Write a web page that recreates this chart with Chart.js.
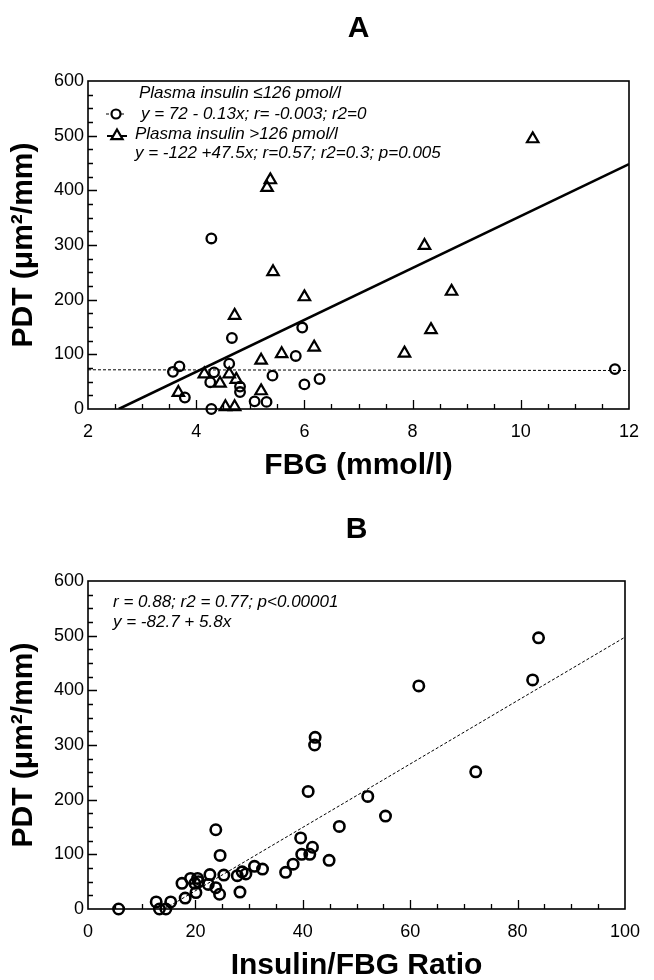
<!DOCTYPE html>
<html>
<head>
<meta charset="utf-8">
<script src="https://cdn.jsdelivr.net/npm/chart.js@4.4.0/dist/chart.umd.min.js"></script>
<style>
  html, body { margin: 0; padding: 0; background: #fff; }
  #wrap { position: relative; width: 654px; height: 980px; overflow: hidden; }
  .panel { position: absolute; left: 0; width: 654px; height: 490px; }
</style>
</head>
<body>
<div id="wrap">
  <div class="panel" style="top:0"><canvas id="chartA" width="654" height="490"></canvas></div>
  <div class="panel" style="top:490px"><canvas id="chartB" width="654" height="490"></canvas></div>
</div>
<script>
// --- Panel A : PDT vs FBG, split by plasma insulin ---
const fbgLowIns  = [3.57, 3.69, 3.79, 4.28, 4.28, 4.26, 4.33, 4.61, 4.66, 4.81, 4.81, 5.08, 5.30, 5.41, 5.84, 5.96, 6.00, 6.28, 11.74];
const pdtLowIns  = [68, 78, 21, 312, 0, 49, 67, 83, 130, 41, 31, 14, 13, 61, 97, 149, 45, 55, 73];
const fbgHighIns = [3.67, 4.15, 4.44, 4.54, 4.71, 4.71, 4.61, 4.74, 5.20, 5.20, 5.31, 5.37, 5.42, 5.58, 6.00, 6.18, 7.85, 8.22, 8.34, 8.72, 10.22];
const pdtHighIns = [30, 64, 47, 4, 4, 171, 64, 54, 89, 33, 405, 419, 251, 101, 205, 113, 102, 299, 145, 215, 494];
const fbgTicks = [2, 4, 6, 8, 10, 12];
const pdtTicks = [0, 100, 200, 300, 400, 500, 600];
// regression fits: [intercept, slope]
const fitLowIns  = [72, -0.13];
const fitHighIns = [-122, 47.5];
const legendTextA = [
  'Plasma insulin \u2264126 pmol/l',
  'y = 72 - 0.13x; r= -0.003; r2=0',
  'Plasma insulin >126 pmol/l',
  'y = -122 +47.5x; r=0.57; r2=0.3; p=0.005'
];

// --- Panel B : PDT vs Insulin/FBG ratio ---
const ratioVals = [5.7, 12.7, 13.3, 14.5, 15.4, 17.5, 18.1, 19.1, 19.9, 20.1, 20.4, 20.6, 22.4, 22.7, 23.8, 23.8, 24.5, 24.6, 25.3,
                   27.8, 28.3, 28.7, 29.4, 31.0, 32.5, 36.8, 38.2, 39.6, 39.8, 41.0, 41.3, 41.8, 42.2, 42.3, 44.9, 46.8, 52.1, 55.4,
                   61.6, 72.2, 82.8, 83.9];
const pdtRatio  = [0, 13, 0, 0, 13, 47, 20, 56, 47, 30, 56, 50, 45, 63, 145, 39, 27, 98, 62,
                   61, 31, 68, 64, 78, 73, 67, 82, 130, 100, 215, 100, 113, 300, 314, 89, 151, 206, 170,
                   408, 251, 419, 496];
const ratioTicks = [0, 20, 40, 60, 80, 100];
const fitRatio = [-82.7, 5.8];
const noteTextB = ['r = 0.88; r2 = 0.77; p<0.00001', 'y = -82.7 + 5.8x'];

const FONT = "'Liberation Sans', Arial, Helvetica, sans-serif";
Chart.defaults.font.family = FONT;
Chart.defaults.color = '#000';

const pts = (xs, ys) => xs.map((x, i) => ({ x, y: ys[i] }));
const fitLine = (fit, x0, x1) => [x0, x1].map(x => ({ x, y: fit[0] + fit[1] * x }));

// box around the plot + inward tick marks (minor and major)
const frameTicks = {
  id: 'frameTicks',
  beforeDatasetsDraw(chart, args, o) {
    const { ctx, chartArea: a, scales: { x, y } } = chart;
    ctx.save();
    ctx.strokeStyle = '#000';
    ctx.lineWidth = 1.6;
    ctx.strokeRect(a.left, a.top, a.right - a.left, a.bottom - a.top);
    ctx.lineWidth = 1.3;
    ctx.beginPath();
    const isMajor = (v, m) => Math.abs(v / m - Math.round(v / m)) < 1e-6;
    for (let v = x.min + o.xMinor; v < x.max - 1e-6; v += o.xMinor) {
      const px = Math.round(x.getPixelForValue(v)) + 0.5;
      const len = isMajor(v, o.xMajor) ? 9 : 5;
      ctx.moveTo(px, a.bottom);
      ctx.lineTo(px, a.bottom - len);
    }
    for (let v = y.min + o.yMinor; v < y.max - 1e-6; v += o.yMinor) {
      const py = Math.round(y.getPixelForValue(v)) + 0.5;
      const len = isMajor(v, o.yMajor) ? 9 : 5;
      ctx.moveTo(a.left, py);
      ctx.lineTo(a.left + len, py);
    }
    ctx.stroke();
    ctx.restore();
  }
};

// text notes drawn inside the plot area
const notes = {
  id: 'notes',
  afterDraw(chart, args, o) {
    const { ctx } = chart;
    ctx.save();
    ctx.fillStyle = '#000';
    ctx.strokeStyle = '#000';
    ctx.font = 'italic 17px ' + FONT;
    ctx.textBaseline = 'middle';
    ctx.textAlign = 'left';
    o.lines.forEach(l => ctx.fillText(l.text, l.x, l.y));
    (o.markers || []).forEach(m => {
      ctx.beginPath();
      ctx.lineWidth = m.dash ? 1 : 2;
      ctx.setLineDash(m.dash ? [3, 2] : []);
      ctx.moveTo(m.x - 10, m.y);
      ctx.lineTo(m.x + 10, m.y);
      ctx.stroke();
      ctx.setLineDash([]);
      ctx.lineWidth = 2.2;
      ctx.beginPath();
      ctx.fillStyle = '#fff';
      if (m.shape === 'circle') {
        ctx.arc(m.x, m.y, 4.5, 0, Math.PI * 2);
      } else {
        ctx.moveTo(m.x, m.y - 6.5);
        ctx.lineTo(m.x + 5.6, m.y + 3.2);
        ctx.lineTo(m.x - 5.6, m.y + 3.2);
        ctx.closePath();
      }
      ctx.fill();
      ctx.stroke();
    });
    ctx.restore();
  }
};

function axes(xMin, xMax, xTicks, xTitle, plotBottomGap, xTitlePad) {
  return {
    x: {
      type: 'linear', min: xMin, max: xMax,
      grid: { display: false, drawTicks: false },
      border: { display: false },
      ticks: { padding: 12, font: { size: 18 }, color: '#000' },
      afterBuildTicks: s => { s.ticks = xTicks.map(v => ({ value: v })); },
      title: { display: true, text: xTitle, color: '#000', font: { size: 30, weight: 'bold' }, padding: { top: 0, bottom: xTitlePad } },
      afterFit: s => { s.height = plotBottomGap; }
    },
    y: {
      type: 'linear', min: 0, max: 600,
      grid: { display: false, drawTicks: false },
      border: { display: false },
      ticks: { padding: 4, font: { size: 18 }, color: '#000' },
      afterBuildTicks: s => { s.ticks = pdtTicks.map(v => ({ value: v })); },
      title: { display: true, text: 'PDT (\u03bcm\u00b2/mm)', color: '#000', font: { size: 30, weight: 'bold' }, padding: { top: 6, bottom: 0 } },
      afterFit: s => { s.width = 88; }
    }
  };
}

const circleStyle = { pointStyle: 'circle', pointRadius: 4.8, pointBorderWidth: 2.3, borderColor: '#000', pointBorderColor: '#000', pointBackgroundColor: 'rgba(0,0,0,0)', backgroundColor: 'rgba(0,0,0,0)', showLine: false, clip: false };

new Chart(document.getElementById('chartA'), {
  type: 'scatter',
  data: {
    datasets: [
      { type: 'line', data: fitLine(fitLowIns, 2, 12), borderColor: '#000', borderWidth: 1, borderDash: [3, 2], pointRadius: 0, fill: false },
      { type: 'line', data: fitLine(fitHighIns, -fitHighIns[0] / fitHighIns[1], 12), borderColor: '#000', borderWidth: 2.6, pointRadius: 0, fill: false },
      { label: 'Plasma insulin \u2264126 pmol/l', data: pts(fbgLowIns, pdtLowIns), ...circleStyle },
      { label: 'Plasma insulin >126 pmol/l', data: pts(fbgHighIns, pdtHighIns), ...circleStyle, pointStyle: 'triangle', pointRadius: 6.6, pointBorderWidth: 2.2 }
    ]
  },
  options: {
    responsive: false,
    animation: false,
    layout: { padding: { left: 0, right: 25, top: 0, bottom: 0 } },
    scales: axes(2, 12, fbgTicks, 'FBG (mmol/l)', 81, 6),
    plugins: {
      legend: { display: false },
      tooltip: { enabled: false },
      title: { display: true, text: 'A', fullSize: false, color: '#000', font: { size: 30, weight: 'bold' }, padding: { top: 11, bottom: 34 } },
      frameTicks: { xMinor: 0.5, xMajor: 2, yMinor: 25, yMajor: 100 },
      notes: {
        lines: [
          { text: legendTextA[0], x: 139, y: 93 },
          { text: legendTextA[1], x: 141, y: 114 },
          { text: legendTextA[2], x: 135, y: 134 },
          { text: legendTextA[3], x: 135, y: 153 }
        ],
        markers: [
          { shape: 'circle', x: 116, y: 114, dash: true },
          { shape: 'triangle', x: 117, y: 136, dash: false }
        ]
      }
    }
  },
  plugins: [frameTicks, notes]
});

new Chart(document.getElementById('chartB'), {
  type: 'scatter',
  data: {
    datasets: [
      { type: 'line', data: fitLine(fitRatio, -fitRatio[0] / fitRatio[1], 100), borderColor: '#000', borderWidth: 1, borderDash: [3, 2], pointRadius: 0, fill: false },
      { label: 'Insulin/FBG', data: pts(ratioVals, pdtRatio), ...circleStyle, pointRadius: 5.2, pointBorderWidth: 2.6 }
    ]
  },
  options: {
    responsive: false,
    animation: false,
    layout: { padding: { left: 0, right: 29, top: 0, bottom: 0 } },
    scales: axes(0, 100, ratioTicks, 'Insulin/FBG Ratio', 71, -4),
    plugins: {
      legend: { display: false },
      tooltip: { enabled: false },
      title: { display: true, text: 'B', fullSize: false, color: '#000', font: { size: 30, weight: 'bold' }, padding: { top: 22, bottom: 33 } },
      frameTicks: { xMinor: 5, xMajor: 20, yMinor: 25, yMajor: 100 },
      notes: {
        lines: [
          { text: noteTextB[0], x: 113, y: 112 },
          { text: noteTextB[1], x: 113, y: 132 }
        ]
      }
    }
  },
  plugins: [frameTicks, notes]
});
</script>
</body>
</html>
